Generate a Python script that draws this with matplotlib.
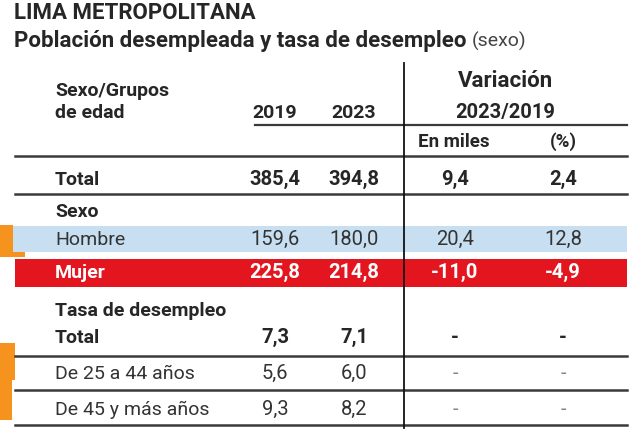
import matplotlib.pyplot as plt
from matplotlib import font_manager
from matplotlib.patches import Rectangle

# datos de la tabla
filas = ["Total", "Sexo", "Hombre", "Mujer", "Tasa de desempleo", "Total",
         "De 25 a 44 años", "De 45 y más años"]
val_2019 = [385.4, None, 159.6, 225.8, None, 7.3, 5.6, 9.3]
val_2023 = [394.8, None, 180.0, 214.8, None, 7.1, 6.0, 8.2]
var_miles = [9.4, None, 20.4, -11.0, None, "-", "-", "-"]
var_pct = [2.4, None, 12.8, -4.9, None, "-", "-", "-"]
negrita = [True, True, False, True, True, True, False, False]

plt.rcParams['font.family'] = ['Roboto', 'DejaVu Sans']


def fmt(v):
    if v is None:
        return ""
    if isinstance(v, str):
        return v
    return f"{v:.1f}".replace(".", ",")


fig = plt.figure(figsize=(6.4, 4.33), dpi=100)
ax = fig.add_axes([0, 0, 1, 1])
ax.set_xlim(0, 640)
ax.set_ylim(433, 0)
ax.axis('off')

oscuro = '#262626'
linea = '#3a3a3a'

# titulos
ax.text(14, 19, "LIMA METROPOLITANA", fontsize=16, fontweight='bold', color=oscuro)
t = ax.text(14, 47, "Población desempleada y tasa de desempleo", fontsize=16,
            fontweight='bold', color=oscuro)
fig.canvas.draw()
bb = t.get_window_extent().transformed(ax.transData.inverted())
ax.text(bb.x1 + 5, 47, "(sexo)", fontsize=14, color='#444444')

# encabezado
ax.text(55, 96, "Sexo/Grupos", fontsize=14, fontweight='bold', color=oscuro)
ax.text(55, 118, "de edad", fontsize=14, fontweight='bold', color=oscuro)
ax.text(275, 118, "2019", fontsize=14, fontweight='bold', color=oscuro, ha='center')
ax.text(354, 118, "2023", fontsize=14, fontweight='bold', color=oscuro, ha='center')
ax.text(505, 87, "Variación", fontsize=16, fontweight='bold', color=oscuro, ha='center')
ax.text(505, 118, "2023/2019", fontsize=14.5, fontweight='bold', color=oscuro, ha='center')
ax.text(454, 147, "En miles", fontsize=13.5, fontweight='bold', color=oscuro, ha='center')
ax.text(563, 147, "(%)", fontsize=13.5, fontweight='bold', color=oscuro, ha='center')

# bandas de color
ax.add_patch(Rectangle((13, 226), 614, 26, color='#c7dff1', lw=0))
ax.add_patch(Rectangle((15, 259), 612, 28, color='#e3161f', lw=0))
ax.add_patch(Rectangle((0, 225), 13, 32, color='#f6921e', lw=0))
ax.add_patch(Rectangle((13, 252), 12, 5, color='#f6921e', lw=0))
ax.add_patch(Rectangle((0, 343), 15, 37, color='#f6921e', lw=0))
ax.add_patch(Rectangle((0, 380), 12, 40, color='#f6921e', lw=0))

# lineas
ax.plot([255, 627], [125, 125], color=linea, lw=1.6)
for y in [156, 194, 356, 390, 425]:
    ax.plot([15, 627], [y, y], color=linea, lw=1.8)
ax.plot([404, 404], [63, 428], color='#111111', lw=1.3)

# filas
base = [185, 217, 245, 278, 316, 343, 379, 415]
for i, nombre in enumerate(filas):
    y = base[i]
    peso = 'bold' if negrita[i] else 'normal'
    col = 'white' if nombre == "Mujer" else ('#333333' if not negrita[i] else oscuro)
    ax.text(55, y, nombre, fontsize=14, fontweight=peso, color=col)
    ax.text(275, y, fmt(val_2019[i]), fontsize=14.5, fontweight=peso, color=col, ha='center')
    ax.text(354, y, fmt(val_2023[i]), fontsize=14.5, fontweight=peso, color=col, ha='center')
    c_var = col if not (isinstance(var_miles[i], str) and not negrita[i]) else '#888888'
    ax.text(455, y, fmt(var_miles[i]), fontsize=14.5, fontweight=peso, color=c_var, ha='center')
    ax.text(563, y, fmt(var_pct[i]), fontsize=14.5, fontweight=peso, color=c_var, ha='center')

fig.savefig("out.png", dpi=100)
